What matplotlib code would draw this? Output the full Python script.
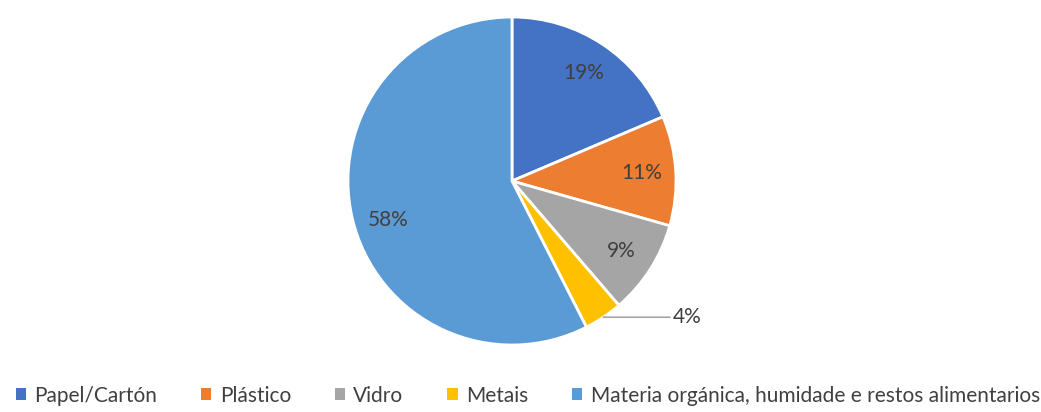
import matplotlib.pyplot as plt
import numpy as np

plt.rcParams['font.family'] = ['Lato', 'DejaVu Sans']

categorias = ['Papel/Cartón', 'Plástico', 'Vidro', 'Metais',
              'Materia orgánica, humidade e restos alimentarios']
valores = [18.6, 10.8, 9.3, 3.8, 57.5]
rotulos = ['19%', '11%', '9%', '4%', '58%']
cores = ['#4472C4', '#ED7D31', '#A5A5A5', '#FFC000', '#5B9BD5']

fig = plt.figure(figsize=(10.41, 4.12), dpi=100)
ax = fig.add_axes([348 / 1041, 67 / 412, 328 / 1041, 328 / 412])

wedges, _ = ax.pie(valores, colors=cores, startangle=90, counterclock=False,
                   radius=1, wedgeprops=dict(edgecolor='white', linewidth=2))

# rótulos de porcentagem
for w, txt in zip(wedges, rotulos):
    ang = np.deg2rad((w.theta1 + w.theta2) / 2)
    if txt == '4%':
        x0, y0 = np.cos(ang), np.sin(ang)
        ax.annotate(txt, xy=(x0, y0), xytext=(0.98, y0), fontsize=15,
                    color='#404040', va='center', ha='left',
                    arrowprops=dict(arrowstyle='-', color='#A6A6A6', lw=1.2,
                                    shrinkA=0, shrinkB=0))
    else:
        if txt == '58%':
            ang = ang + np.deg2rad(4)  # Excel desloca um pouco
        ax.text(0.79 * np.cos(ang), 0.79 * np.sin(ang), txt, fontsize=15,
                color='#404040', ha='center', va='center')

ax.set_xlim(-1, 1)
ax.set_ylim(-1, 1)
ax.set_aspect('equal')
ax.axis('off')

leg = fig.legend(wedges, categorias, loc='lower center', ncol=5,
                 bbox_to_anchor=(0.507, -0.03), frameon=False, fontsize=15,
                 handlelength=0.5, handleheight=0.5, handletextpad=0.4,
                 columnspacing=2.1, labelcolor='#404040')
for h in leg.legend_handles:
    h.set_edgecolor('none')

fig.savefig('out.png', dpi=100)
